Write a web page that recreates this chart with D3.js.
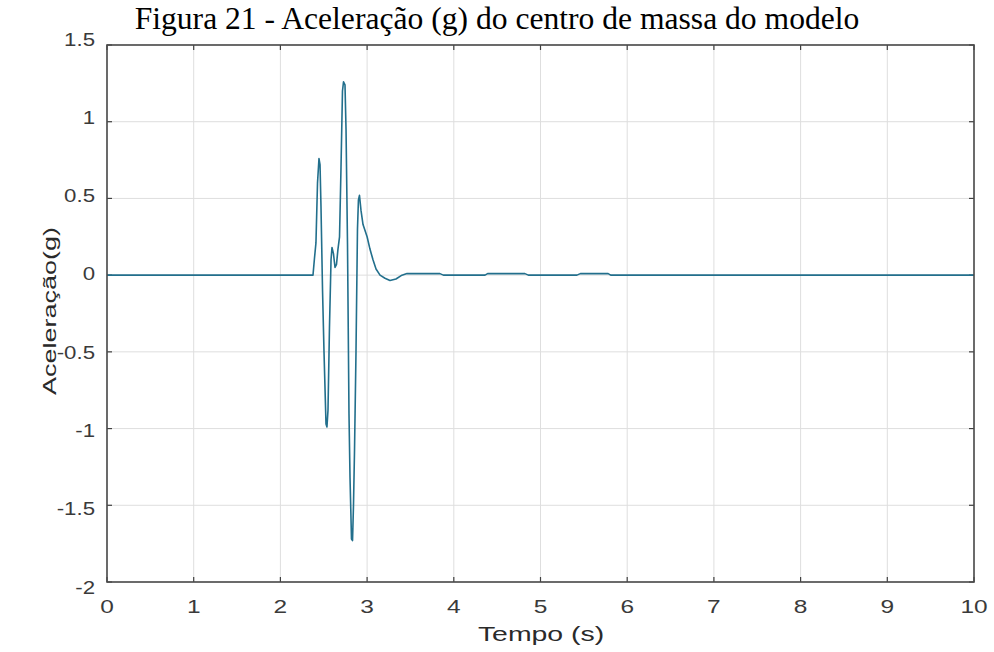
<!DOCTYPE html>
<html><head><meta charset="utf-8">
<script src="https://cdn.jsdelivr.net/npm/d3@7"></script>
<style>body{margin:0;background:#fff}svg{display:block}</style>
</head><body>
<svg id="c" width="994" height="652"></svg>
<script>
const titleText = "Figura 21 - Aceleração (g) do centro de massa do modelo";
const xLabel = "Tempo (s)";
const yLabel = "Aceleração(g)";
const xTicks = [0,1,2,3,4,5,6,7,8,9,10];
const yTicks = [-2,-1.5,-1,-0.5,0,0.5,1,1.5];
const time  = [0, 2.376, 2.393, 2.41, 2.428, 2.445, 2.457, 2.468, 2.486, 2.503, 2.526, 2.537, 2.549, 2.566, 2.584, 2.595, 2.612, 2.63, 2.647, 2.664, 2.682, 2.699, 2.716, 2.728, 2.745, 2.757, 2.774, 2.791, 2.803, 2.82, 2.832, 2.843, 2.855, 2.872, 2.889, 2.9, 2.912, 2.93, 2.953, 3.0, 3.033, 3.068, 3.103, 3.149, 3.206, 3.264, 3.333, 3.402, 3.46, 3.84, 3.88, 4.36, 4.39, 4.82, 4.86, 5.42, 5.46, 5.78, 5.81, 10];
const accel = [0, 0, 0.11, 0.21, 0.6, 0.76, 0.72, 0.45, -0.1, -0.5, -0.97, -0.99, -0.88, -0.34, 0.1, 0.18, 0.14, 0.05, 0.07, 0.17, 0.25, 0.70, 1.2, 1.26, 1.24, 0.95, 0.2, -0.9, -1.32, -1.72, -1.73, -1.5, -1.14, -0.5, 0.3, 0.49, 0.52, 0.42, 0.33, 0.25, 0.17, 0.1, 0.04, 0.0, -0.02, -0.035, -0.025, 0.0, 0.01, 0.01, 0.0, 0.0, 0.01, 0.01, 0.0, 0.0, 0.01, 0.01, 0.0, 0];

const svg = d3.select("#c");
const L=107, R=974, T=45, B=582;
const x = d3.scaleLinear().domain([0,10]).range([L,R]);
const y = d3.scaleLinear().domain([-2,1.5]).range([B,T]);
const yl = d3.scaleLinear().domain([-2,1.5]).range([587,39]);
const fmt = d => String(d);

// grid
svg.append("g").selectAll("line").data(xTicks).join("line")
  .attr("x1",d=>x(d)).attr("x2",d=>x(d)).attr("y1",T).attr("y2",B)
  .attr("stroke","#dedede").attr("stroke-width",1);
svg.append("g").selectAll("line").data(yTicks).join("line")
  .attr("y1",d=>y(d)).attr("y2",d=>y(d)).attr("x1",L).attr("x2",R)
  .attr("stroke","#dedede").attr("stroke-width",1);

// inner ticks
const tk = svg.append("g").attr("stroke","#404040").attr("stroke-width",1.2);
xTicks.forEach(d=>{
  tk.append("line").attr("x1",x(d)).attr("x2",x(d)).attr("y1",B).attr("y2",B-5);
  tk.append("line").attr("x1",x(d)).attr("x2",x(d)).attr("y1",T).attr("y2",T+5);
});
yTicks.forEach(d=>{
  tk.append("line").attr("y1",y(d)).attr("y2",y(d)).attr("x1",L).attr("x2",L+5);
  tk.append("line").attr("y1",y(d)).attr("y2",y(d)).attr("x1",R).attr("x2",R-5);
});

// data line
const pts = time.map((t,i)=>[t,accel[i]]);
svg.append("path").datum(pts)
  .attr("d", d3.line().x(d=>x(d[0])).y(d=>y(d[1])))
  .attr("fill","none").attr("stroke","#226f8c").attr("stroke-width",1.6)
  .attr("stroke-linejoin","round");

// box
svg.append("rect").attr("x",L).attr("y",T).attr("width",R-L).attr("height",B-T)
  .attr("fill","none").attr("stroke","#4a4a4a").attr("stroke-width",1.6);

// tick labels
const fam = "'Liberation Sans', Arial, sans-serif";
svg.append("g").selectAll("text").data(xTicks).join("text")
  .attr("transform",d=>`translate(${x(d)},613) scale(1.36,1)`)
  .attr("text-anchor","middle").attr("font-family",fam).attr("font-size",18)
  .attr("fill","#3a3a3a").text(fmt);
svg.append("g").selectAll("text").data(yTicks).join("text")
  .attr("transform",d=>`translate(95,${yl(d)+6.5}) scale(1.27,1)`)
  .attr("text-anchor","end").attr("font-family",fam).attr("font-size",17.5)
  .attr("fill","#3a3a3a").text(fmt);

// axis labels
svg.append("text").attr("transform",`translate(541,641) scale(1.42,1)`)
  .attr("text-anchor","middle").attr("font-family",fam).attr("font-size",20)
  .attr("fill","#2a2a2a").text(xLabel);
svg.append("text").attr("transform",`translate(56,311) rotate(-90) scale(1.42,1)`)
  .attr("text-anchor","middle").attr("font-family",fam).attr("font-size",19)
  .attr("fill","#2a2a2a").text(yLabel);

// title
svg.append("text").attr("x",497).attr("y",29).attr("text-anchor","middle")
  .attr("font-family","'Liberation Serif','Times New Roman',serif").attr("font-size",31.6)
  .attr("fill","#000").text(titleText);
</script>
</body></html>
